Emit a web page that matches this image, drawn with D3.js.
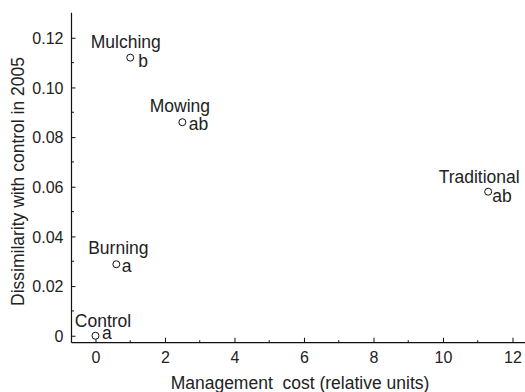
<!DOCTYPE html>
<html>
<head>
<meta charset="utf-8">
<script src="https://cdn.jsdelivr.net/npm/d3@7"></script>
<style>
  html, body { margin: 0; padding: 0; background: #fff; }
  svg { display: block; }
  text { font-family: "Liberation Sans", Arial, sans-serif; fill: #222; }
</style>
</head>
<body>
<svg id="chart" width="525" height="392"></svg>
<script>
// Treatments, their management cost and dissimilarity with control in 2005
const treatments = ["Control", "Burning", "Mulching", "Mowing", "Traditional"];
const costs = [0, 0.6, 1.0, 2.5, 11.3];
const dissimilarity = [0, 0.0288, 0.112, 0.086, 0.058];
const groups = ["a", "a", "b", "ab", "ab"];

const xTicks = [0, 2, 4, 6, 8, 10, 12];
const xMinorTicks = [1, 3, 5, 7, 9, 11];
const yTicks = [0, 0.02, 0.04, 0.06, 0.08, 0.10, 0.12];
const yMinorTicks = [0.01, 0.03, 0.05, 0.07, 0.09, 0.11];

const xTitle = "Management\u00a0 cost (relative units)";
const yTitle = "Dissimilarity with control in 2005";

const W = 525, H = 392;
const plot = { left: 71.5, right: 525, top: 12.7, bottom: 342.7 };

const x = d3.scaleLinear().domain([-0.69, 12.36]).range([plot.left, plot.right]);
const y = d3.scaleLinear().domain([-0.0028, 0.1301]).range([plot.bottom, plot.top]);

const svg = d3.select("#chart");

// Label placement around each marker: name above, group letter to the right
const nameOffset = [[7.5, -9], [2, -10], [-4.5, -10], [-2.5, -10], [-9, -9]];
const letterOffset = [[6.5, 3.3], [5.5, 8], [8, 9.3], [6.5, 8], [4, 10.5]];

// Axes with inward-pointing ticks
const fmtY = d => d === 0 ? "0" : d3.format(".2f")(d);

const xAxis = svg.append("g").attr("transform", `translate(0,${plot.bottom})`);
xAxis.call(d3.axisBottom(x).tickValues(xTicks).tickSize(-5).tickPadding(0).tickFormat(d3.format("d")));
xAxis.select(".domain").attr("d", `M${plot.left},0H${plot.right}`);
xAxis.selectAll(".tick text").attr("y", 20.5).attr("dy", null).style("font-size", "16px");
xAxis.selectAll(".tick line").attr("stroke", "#111");
xAxis.selectAll(".minor").data(xMinorTicks).enter().append("line")
  .attr("class", "minor").attr("x1", d => x(d)).attr("x2", d => x(d))
  .attr("y1", 0).attr("y2", -2.5).attr("stroke", "#111");

const yAxis = svg.append("g").attr("transform", `translate(${plot.left},0)`);
yAxis.call(d3.axisLeft(y).tickValues(yTicks).tickSize(-4).tickPadding(0).tickFormat(fmtY));
yAxis.select(".domain").attr("d", `M0,${plot.top}V${plot.bottom}`);
yAxis.selectAll(".tick text").attr("x", -8).attr("dy", "0.35em").style("font-size", "16px");
yAxis.selectAll(".tick line").attr("stroke", "#111");
yAxis.selectAll(".minor").data(yMinorTicks).enter().append("line")
  .attr("class", "minor").attr("y1", d => y(d)).attr("y2", d => y(d))
  .attr("x1", 0).attr("x2", 2.5).attr("stroke", "#111");

svg.selectAll(".domain").attr("stroke", "#111").attr("stroke-width", 1.2);
svg.selectAll(".tick text").attr("fill", "#222");

// Axis titles
svg.append("text")
  .attr("x", 300).attr("y", 389)
  .attr("text-anchor", "middle")
  .style("font-size", "17.5px")
  .text(xTitle);

svg.append("text")
  .attr("transform", `translate(24,181.5) rotate(-90)`)
  .attr("text-anchor", "middle")
  .style("font-size", "17.5px")
  .text(yTitle);

// Points and labels
const pts = svg.append("g").selectAll("g").data(treatments).enter().append("g")
  .attr("transform", (d, i) => `translate(${x(costs[i])},${y(dissimilarity[i])})`);

pts.append("circle")
  .attr("r", 3.5)
  .attr("fill", "#fff")
  .attr("stroke", "#111")
  .attr("stroke-width", 1);

pts.append("text")
  .attr("x", (d, i) => nameOffset[i][0])
  .attr("y", (d, i) => nameOffset[i][1])
  .attr("text-anchor", "middle")
  .style("font-size", "17.5px")
  .text(d => d);

pts.append("text")
  .attr("x", (d, i) => letterOffset[i][0])
  .attr("y", (d, i) => letterOffset[i][1])
  .attr("text-anchor", "start")
  .style("font-size", "17.5px")
  .text((d, i) => groups[i]);
</script>
</body>
</html>
